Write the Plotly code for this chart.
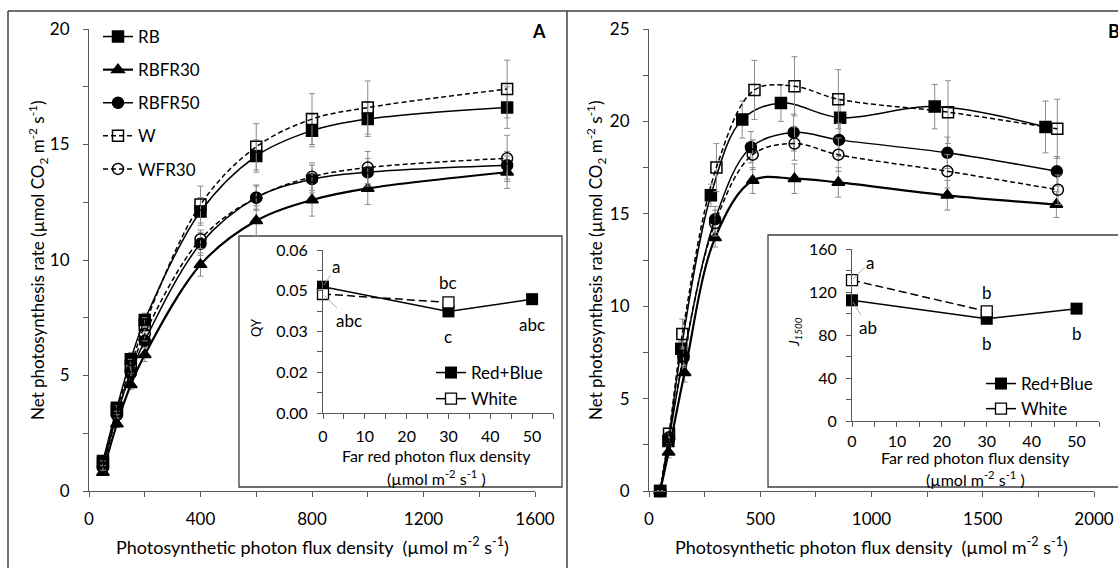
import plotly.graph_objects as go

W_FIG, H_FIG = 1118, 568
def px(x): return x / W_FIG
def py(y): return 1 - y / H_FIG

FONT = "Lato"
INK = "#000000"
AXC = "#595959"
ERRC = "#8c8c8c"

# ---------------- Panel A : light response curves ----------------
ppfd_a = [50, 100, 150, 200, 400, 600, 800, 1000, 1500]
a_rb = [1.3, 3.6, 5.7, 7.4, 12.1, 14.5, 15.6, 16.1, 16.6]
a_rbfr30 = [0.8, 2.9, 4.6, 5.9, 9.8, 11.7, 12.6, 13.1, 13.8]
a_rbfr50 = [1.1, 3.3, 5.1, 6.5, 10.7, 12.7, 13.5, 13.8, 14.1]
a_w = [1.2, 3.5, 5.4, 7.2, 12.4, 14.9, 16.1, 16.6, 17.4]
a_wfr30 = [1.0, 3.3, 5.2, 6.8, 10.9, 12.7, 13.6, 14.0, 14.4]
a_rb_err = [0.1, 0.2, 0.3, 0.3, 0.6, 0.7, 0.7, 0.75, 0.9]
a_rbfr30_err = [0.1, 0.15, 0.2, 0.3, 0.5, 0.65, 0.7, 0.7, 0.7]
a_rbfr50_err = [0.1, 0.15, 0.2, 0.3, 0.5, 0.55, 0.6, 0.6, 0.6]
a_w_err = [0.1, 0.2, 0.3, 0.3, 0.8, 1.0, 1.1, 1.15, 1.25]
a_wfr30_err = [0.1, 0.15, 0.2, 0.3, 0.4, 0.5, 0.6, 0.7, 1.0]

# ---------------- Panel B : light response curves ----------------
b_rb_x = [50, 87, 145, 278, 419, 593, 859, 1284, 1782]
b_rb = [0.0, 2.7, 7.7, 16.0, 20.1, 21.0, 20.2, 20.8, 19.7]
b_rbfr30_x = [50, 88, 160, 297, 466, 654, 851, 1341, 1831]
b_rbfr30 = [0.0, 2.1, 6.4, 13.7, 16.8, 16.9, 16.7, 16.0, 15.5]
b_rbfr50_x = [50, 90, 155, 297, 458, 650, 854, 1341, 1833]
b_rbfr50 = [0.0, 2.8, 7.2, 14.7, 18.6, 19.4, 19.0, 18.3, 17.3]
b_w_x = [50, 90, 150, 303, 474, 654, 851, 1344, 1835]
b_w = [0.0, 3.1, 8.5, 17.5, 21.7, 21.9, 21.2, 20.5, 19.6]
b_wfr30_x = [50, 90, 155, 297, 466, 654, 851, 1341, 1838]
b_wfr30 = [0.0, 2.9, 7.3, 14.5, 18.2, 18.8, 18.2, 17.3, 16.3]
b_rb_err = [0, 0.3, 0.4, 0.6, 1.0, 1.0, 1.0, 1.2, 1.4]
b_rbfr30_err = [0, 0.3, 0.5, 0.5, 0.7, 0.8, 0.8, 0.8, 0.7]
b_rbfr50_err = [0, 0.3, 0.5, 0.7, 0.85, 1.0, 0.9, 0.85, 0.8]
b_w_err = [0, 0.3, 0.8, 1.3, 1.6, 1.6, 1.6, 1.7, 1.6]
b_wfr30_err = [0, 0.3, 0.5, 0.7, 0.8, 0.9, 0.9, 0.9, 0.8]

# ---------------- Insets ----------------
far_red = [0, 30, 50]
far_red_w = [0, 30]
qy_rb = [0.0465, 0.0374, 0.0419]
qy_w = [0.0438, 0.0407]
qy_rb_letters = ["a", "c", "abc"]
qy_w_letters = ["abc", "bc"]
j_rb = [112.3, 95.1, 104.5]
j_w = [131.0, 102.0]
j_rb_letters = ["ab", "b", "b"]
j_w_letters = ["a", "b"]

series_names = ["RB", "RBFR30", "RBFR50", "W", "WFR30"]
styles = {
    "RB": dict(symbol="square", dash="solid", width=1.5, size=11),
    "RBFR30": dict(symbol="triangle-up", dash="solid", width=2.2, size=11),
    "RBFR50": dict(symbol="circle", dash="solid", width=1.5, size=11),
    "W": dict(symbol="square-open", dash="5px,3px", width=1.5, size=11),
    "WFR30": dict(symbol="circle-open", dash="5px,3px", width=1.5, size=11),
}
a_data = {"RB": (ppfd_a, a_rb, a_rb_err), "RBFR30": (ppfd_a, a_rbfr30, a_rbfr30_err),
          "RBFR50": (ppfd_a, a_rbfr50, a_rbfr50_err), "W": (ppfd_a, a_w, a_w_err),
          "WFR30": (ppfd_a, a_wfr30, a_wfr30_err)}
b_data = {"RB": (b_rb_x, b_rb, b_rb_err), "RBFR30": (b_rbfr30_x, b_rbfr30, b_rbfr30_err),
          "RBFR50": (b_rbfr50_x, b_rbfr50, b_rbfr50_err), "W": (b_w_x, b_w, b_w_err),
          "WFR30": (b_wfr30_x, b_wfr30, b_wfr30_err)}

fig = go.Figure()

for panel, data, xa, ya in [("A", a_data, "x", "y"), ("B", b_data, "x2", "y2")]:
    for name in series_names:
        xs, ys, es = data[name]
        st = styles[name]
        fig.add_trace(go.Scatter(
            x=xs, y=ys, name=name, xaxis=xa, yaxis=ya,
            mode="lines+markers", line=dict(color=INK, width=st["width"], dash=st["dash"], shape="spline"),
            marker=dict(symbol=st["symbol"], size=st["size"], color=INK,
                        line=dict(color=INK, width=1.5)),
            error_y=dict(type="data", array=es, color=ERRC, thickness=1, width=3),
            showlegend=(panel == "A"), legend="legend", legendgroup=name,
            cliponaxis=False, hoverinfo="skip"))

# inset A traces
fig.add_trace(go.Scatter(x=far_red, y=qy_rb, xaxis="x3", yaxis="y3", mode="lines+markers",
                         line=dict(color=INK, width=1.5), marker=dict(symbol="square", size=12, color=INK),
                         showlegend=False, cliponaxis=False, hoverinfo="skip"))
fig.add_trace(go.Scatter(x=far_red_w, y=qy_w, xaxis="x3", yaxis="y3", mode="lines+markers",
                         line=dict(color=INK, width=1.5, dash="8px,4px"),
                         marker=dict(symbol="square", size=11, color="white", line=dict(color=INK, width=1.3)),
                         showlegend=False, cliponaxis=False, hoverinfo="skip"))
# inset B traces
fig.add_trace(go.Scatter(x=far_red, y=j_rb, xaxis="x4", yaxis="y4", mode="lines+markers",
                         line=dict(color=INK, width=1.5), marker=dict(symbol="square", size=12, color=INK),
                         showlegend=False, cliponaxis=False, hoverinfo="skip"))
fig.add_trace(go.Scatter(x=far_red_w, y=j_w, xaxis="x4", yaxis="y4", mode="lines+markers",
                         line=dict(color=INK, width=1.5, dash="8px,4px"),
                         marker=dict(symbol="square", size=11, color="white", line=dict(color=INK, width=1.3)),
                         showlegend=False, cliponaxis=False, hoverinfo="skip"))
# legend entries for insets (solid line samples)
for leg, xa, ya in [("legend2", "x3", "y3"), ("legend3", "x4", "y4")]:
    fig.add_trace(go.Scatter(x=[None], y=[None], xaxis=xa, yaxis=ya, name="Red+Blue", mode="lines+markers",
                             line=dict(color=INK, width=1.5), marker=dict(symbol="square", size=12, color=INK),
                             legend=leg, legendgroup=leg + "rb", showlegend=True))
    fig.add_trace(go.Scatter(x=[None], y=[None], xaxis=xa, yaxis=ya, name="White", mode="lines+markers",
                             line=dict(color=INK, width=1.5),
                             marker=dict(symbol="square", size=11, color="white", line=dict(color=INK, width=1.3)),
                             legend=leg, legendgroup=leg + "w", showlegend=True))

tickfont = dict(family=FONT, size=17, color=INK)
tickfont_in = dict(family=FONT, size=16, color=INK)

def main_axis(domain, rng, dtick, minor, anchor, standoff):
    return dict(domain=domain, range=rng, dtick=dtick, tick0=0, showline=True, linecolor=AXC, linewidth=1,
                ticks="outside", ticklen=5, tickcolor=AXC, showgrid=False, zeroline=False,
                minor=dict(dtick=minor, tick0=0, ticks="outside", ticklen=5, tickcolor=AXC, showgrid=False),
                tickfont=tickfont, anchor=anchor, ticklabelstandoff=standoff, fixedrange=True)

layout = dict(
    width=W_FIG, height=H_FIG, margin=dict(l=0, r=0, t=0, b=0, autoexpand=False),
    paper_bgcolor="white", plot_bgcolor="rgba(0,0,0,0)",
    font=dict(family=FONT, size=17, color=INK),
    xaxis=main_axis([px(89), px(535)], [0, 1600], 400, 200, "y", 8),
    yaxis=main_axis([py(491), py(29)], [0, 20], 5, 2.5, "x", 10),
    xaxis2=main_axis([px(649), px(1094)], [0, 2000], 500, 250, "y2", 8),
    yaxis2=main_axis([py(491), py(29)], [0, 25], 5, 2.5, "x2", 10),
    xaxis3=dict(domain=[px(323), px(553)], range=[0, 55], dtick=10, tick0=0, showline=True, linecolor=AXC,
                ticks="outside", ticklen=5, tickcolor=AXC, showgrid=False, zeroline=False,
                minor=dict(dtick=5, tick0=0, ticks="outside", ticklen=5, tickcolor=AXC),
                tickfont=tickfont_in, anchor="y3", ticklabelstandoff=4, fixedrange=True),
    yaxis3=dict(domain=[py(413), py(250)], range=[0, 0.06], tickmode="array",
                tickvals=[0, 0.015, 0.03, 0.045, 0.06], ticktext=["0.00", "0.02", "0.03", "0.05", "0.06"],
                showline=True, linecolor=AXC, ticks="outside", ticklen=5, tickcolor=AXC, showgrid=False,
                zeroline=False, minor=dict(dtick=0.0075, tick0=0, ticks="outside", ticklen=5, tickcolor=AXC),
                tickfont=tickfont_in, anchor="x3", ticklabelstandoff=6, fixedrange=True),
    xaxis4=dict(domain=[px(852), px(1099)], range=[0, 55], dtick=10, tick0=0, showline=True, linecolor=AXC,
                ticks="outside", ticklen=5, tickcolor=AXC, showgrid=False, zeroline=False,
                minor=dict(dtick=5, tick0=0, ticks="outside", ticklen=5, tickcolor=AXC),
                tickfont=tickfont_in, anchor="y4", ticklabelstandoff=1, fixedrange=True),
    yaxis4=dict(domain=[py(421), py(249)], range=[0, 160], dtick=40, tick0=0,
                showline=True, linecolor=AXC, ticks="outside", ticklen=5, tickcolor=AXC, showgrid=False,
                zeroline=False, minor=dict(dtick=20, tick0=0, ticks="outside", ticklen=5, tickcolor=AXC),
                tickfont=tickfont_in, anchor="x4", ticklabelstandoff=6, fixedrange=True),
    legend=dict(x=px(98), y=py(19), xanchor="left", yanchor="top", bgcolor="rgba(0,0,0,0)",
                font=dict(family=FONT, size=17, color=INK), tracegroupgap=8, itemwidth=30),
    legend2=dict(x=px(431), y=py(355), xanchor="left", yanchor="top", bgcolor="rgba(0,0,0,0)",
                 font=dict(family=FONT, size=17, color=INK), tracegroupgap=1, itemwidth=30),
    legend3=dict(x=px(981), y=py(366), xanchor="left", yanchor="top", bgcolor="rgba(0,0,0,0)",
                 font=dict(family=FONT, size=17, color=INK), tracegroupgap=0, itemwidth=30),
    showlegend=True,
)
fig.update_layout(**layout)

# frame and inset boxes
frame = dict(color="#3f3f3f", width=1.5)
shapes = [
    dict(type="line", xref="paper", yref="paper", x0=px(8), x1=px(1118), y0=py(11), y1=py(11), line=frame),
    dict(type="line", xref="paper", yref="paper", x0=px(8), x1=px(8), y0=py(11), y1=py(568), line=frame),
    dict(type="line", xref="paper", yref="paper", x0=px(567), x1=px(567), y0=py(11), y1=py(568), line=frame),
    dict(type="rect", xref="paper", yref="paper", x0=px(239), x1=px(562), y0=py(487), y1=py(236),
         line=dict(color="#3f3f3f", width=1.3), fillcolor="white", layer="below"),
    dict(type="rect", xref="paper", yref="paper", x0=px(768), x1=px(1120), y0=py(487), y1=py(235),
         line=dict(color="#3f3f3f", width=1.3), fillcolor="white", layer="below"),
]
fig.update_layout(shapes=shapes)

ann = []
mid = dict(xref="paper", yref="paper", showarrow=False, xanchor="center", yanchor="middle")
xtitle = "Photosynthetic photon flux density &nbsp;(µmol m<sup>-2</sup> s<sup>-1</sup>)"
ytitle = "Net photosynthesis rate (µmol CO<sub>2</sub> m<sup>-2</sup> s<sup>-1</sup>)"
for cx, yx in [(312, 38), (871.5, 596)]:
    ann.append(dict(text=xtitle, x=px(cx), y=py(546), font=dict(family=FONT, size=18), **mid))
    ann.append(dict(text=ytitle, x=px(yx), y=py(260), font=dict(family=FONT, size=17), textangle=-90, **mid))
ann.append(dict(text="<b>A</b>", x=px(539), y=py(31), font=dict(family=FONT, size=18), **mid))
ann.append(dict(text="<b>B</b>", x=px(1106), y=py(31), xref="paper", yref="paper", showarrow=False,
                font=dict(family=FONT, size=18), xanchor="left", yanchor="middle"))
# inset titles
ann.append(dict(text="QY", x=px(256), y=py(328), font=dict(family=FONT, size=13), textangle=-90, **mid))
ann.append(dict(text="<i>J<sub>1500</sub></i>", x=px(794), y=py(332), font=dict(family=FONT, size=14),
                textangle=-90, **mid))
for cx, y1, y2 in [(436, 455, 477), (976, 457, 478)]:
    ann.append(dict(text="Far red photon flux density", x=px(cx), y=py(y1), font=dict(family=FONT, size=16), **mid))
    ann.append(dict(text="(µmol m<sup>-2</sup> s<sup>-1</sup> )", x=px(cx), y=py(y2),
                    font=dict(family=FONT, size=16), **mid))

lab = dict(family=FONT, size=17, color=INK)
lead = dict(showarrow=True, arrowhead=0, arrowwidth=0.8, arrowcolor="#9a9a9a", standoff=2)
# inset A letters
ann.append(dict(text=qy_rb_letters[0], x=far_red[0], y=qy_rb[0], xref="x3", yref="y3", ax=13, ay=-20, font=lab, **lead))
ann.append(dict(text=qy_w_letters[0], x=far_red_w[0], y=qy_w[0], xref="x3", yref="y3", ax=26, ay=26, font=lab, **lead))
ann.append(dict(text=qy_w_letters[1], x=far_red_w[1], y=qy_w[1], xref="x3", yref="y3", showarrow=False, yshift=20, font=lab))
ann.append(dict(text=qy_rb_letters[1], x=far_red[1], y=qy_rb[1], xref="x3", yref="y3", showarrow=False, yshift=-25, font=lab))
ann.append(dict(text=qy_rb_letters[2], x=far_red[2], y=qy_rb[2], xref="x3", yref="y3", showarrow=False, yshift=-25, font=lab))
# inset B letters
ann.append(dict(text=j_w_letters[0], x=far_red_w[0], y=j_w[0], xref="x4", yref="y4", ax=18, ay=-18, font=lab, **lead))
ann.append(dict(text=j_rb_letters[0], x=far_red[0], y=j_rb[0], xref="x4", yref="y4", ax=16, ay=27, font=lab, **lead))
ann.append(dict(text=j_w_letters[1], x=far_red_w[1], y=j_w[1], xref="x4", yref="y4", showarrow=False, yshift=19, font=lab))
ann.append(dict(text=j_rb_letters[1], x=far_red[1], y=j_rb[1], xref="x4", yref="y4", showarrow=False, yshift=-25, font=lab))
ann.append(dict(text=j_rb_letters[2], x=far_red[2], y=j_rb[2], xref="x4", yref="y4", showarrow=False, yshift=-25, font=lab))

fig.update_layout(annotations=ann)
fig.write_html("out.html", config={"displayModeBar": False},
               post_script="document.body.style.margin='0px';document.body.style.overflow='hidden';")
